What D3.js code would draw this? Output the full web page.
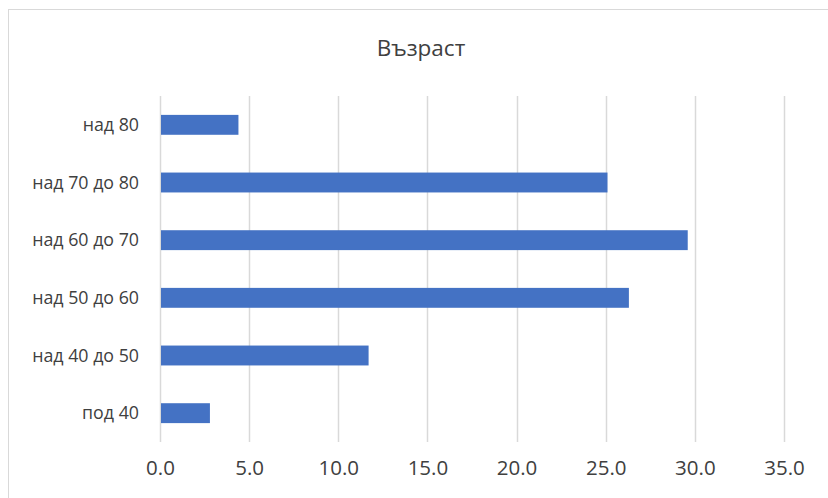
<!DOCTYPE html>
<html>
<head>
<meta charset="utf-8">
<script src="https://cdn.jsdelivr.net/npm/d3@7"></script>
<style>
  html, body { margin: 0; padding: 0; background: #fff; }
  svg { display: block; }
  text { font-family: "Open Sans", "Noto Sans", sans-serif; fill: #404040; }
</style>
</head>
<body>
<svg id="chart" width="828" height="498"></svg>
<script>
// Age groups (top to bottom) and their shares
const categories = ["над 80", "над 70 до 80", "над 60 до 70", "над 50 до 60", "над 40 до 50", "под 40"];
const values = [4.4, 25.1, 29.6, 26.3, 11.7, 2.8];
const tickValues = [0, 5, 10, 15, 20, 25, 30, 35];
const title = "Възраст";

const svg = d3.select("#chart");
const W = 828, H = 498;
const plot = { left: 160, right: 784, top: 96, bottom: 442 };

// outer chart frame
svg.append("rect")
  .attr("x", 8.5).attr("y", 9.5)
  .attr("width", W + 10).attr("height", H + 10)
  .attr("fill", "#fff")
  .attr("stroke", "#d9d9d9").attr("stroke-width", 1);

const x = d3.scaleLinear().domain([0, 35]).range([plot.left, plot.right]);
const y = d3.scaleBand().domain(categories).range([plot.top, plot.bottom]).paddingInner(0.655).paddingOuter(0.3275);

// vertical gridlines
svg.append("g")
  .selectAll("line")
  .data(tickValues)
  .join("line")
  .attr("x1", d => Math.round(x(d)) + 0.5)
  .attr("x2", d => Math.round(x(d)) + 0.5)
  .attr("y1", plot.top)
  .attr("y2", plot.bottom)
  .attr("stroke", "#d9d9d9")
  .attr("stroke-width", 1.5);

// bars
svg.append("g")
  .selectAll("rect")
  .data(values)
  .join("rect")
  .attr("x", x(0) + 1)
  .attr("y", (d, i) => y(categories[i]))
  .attr("width", d => x(d) - x(0) - 1)
  .attr("height", y.bandwidth())
  .attr("fill", "#4472c4");

// x axis labels
const xAxis = d3.axisBottom(x).tickValues(tickValues).tickFormat(d3.format(".1f")).tickSize(0);
const gx = svg.append("g").attr("transform", `translate(0,${plot.bottom})`).call(xAxis);
gx.select(".domain").remove();
gx.selectAll("text")
  .attr("dy", 0)
  .attr("y", 33)
  .style("font-size", "20.5px")
  .attr("fill", "#404040");

// y axis labels
const yAxis = d3.axisLeft(y).tickSize(0);
const gy = svg.append("g").attr("transform", `translate(${plot.left - 21},0)`).call(yAxis);
gy.select(".domain").remove();
gy.selectAll("text")
  .attr("x", 0)
  .attr("dy", "0.35em")
  .style("font-size", "17.8px")
  .attr("fill", "#404040");

// title
svg.append("text")
  .attr("x", 421).attr("y", 56)
  .attr("text-anchor", "middle")
  .style("font-size", "22.5px")
  .text(title);
</script>
</body>
</html>
